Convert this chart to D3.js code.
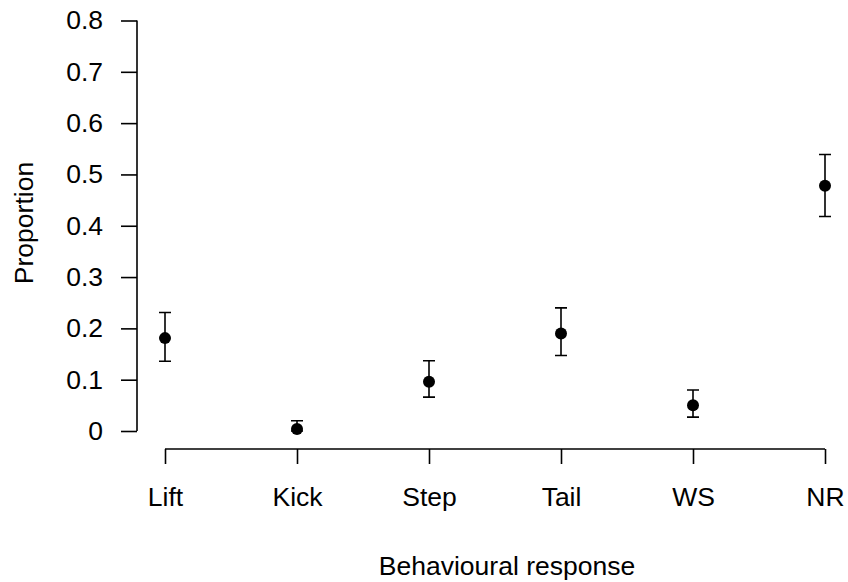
<!DOCTYPE html>
<html>
<head>
<meta charset="utf-8">
<script src="https://cdn.jsdelivr.net/npm/d3@7"></script>
<style>
html,body{margin:0;padding:0;background:#fff;}
svg{display:block;}
text{font-family:"Liberation Sans",Arial,sans-serif;fill:#000;}
</style>
</head>
<body>
<svg id="chart" width="848" height="582"></svg>
<script>
const categories = ["Lift", "Kick", "Step", "Tail", "WS", "NR"];
const proportion = [0.181, 0.004, 0.096, 0.190, 0.050, 0.478];
const lowerCI   = [0.136, 0.000, 0.066, 0.147, 0.027, 0.418];
const upperCI   = [0.231, 0.020, 0.137, 0.240, 0.080, 0.539];
const yTicks = [0, 0.1, 0.2, 0.3, 0.4, 0.5, 0.6, 0.7, 0.8];
const yTickLabels = ["0", "0.1", "0.2", "0.3", "0.4", "0.5", "0.6", "0.7", "0.8"];

const svg = d3.select("#chart");
const fontSize = 26.5;
const ff = '"Liberation Sans",Arial,sans-serif';
const x = d3.scalePoint().domain(categories).range([165, 825]);
const y = d3.scaleLinear().domain([0, 0.8]).range([431, 20.5]);
const axisX = 137, axisY = 449;

// Y axis
const yAxis = d3.axisLeft(y).tickValues(yTicks)
  .tickFormat((d, i) => yTickLabels[i]).tickSize(16).tickPadding(18).tickSizeOuter(0);
const gy = svg.append("g").attr("transform", `translate(${axisX},0)`).call(yAxis);
gy.select(".domain").attr("d", `M0,${y(0)}V${y(0.8)}`);
gy.selectAll("line,path").attr("stroke", "#000").attr("stroke-width", 1.6);
gy.selectAll("text").attr("font-size", fontSize).attr("font-family", ff).attr("fill", "#000");

// X axis
const xAxis = d3.axisBottom(x).tickSize(15).tickPadding(23).tickSizeOuter(0);
const gx = svg.append("g").attr("transform", `translate(0,${axisY})`).call(xAxis);
gx.select(".domain").attr("d", `M${x(categories[0])},0H${x(categories[categories.length-1])}`);
gx.selectAll("line,path").attr("stroke", "#000").attr("stroke-width", 1.6);
gx.selectAll("text").attr("font-size", fontSize).attr("font-family", ff).attr("fill", "#000");

// Axis titles
svg.append("text").attr("x", 507).attr("y", 575).attr("text-anchor", "middle")
  .attr("font-size", fontSize).text("Behavioural response");
svg.append("text").attr("transform", "translate(33,223) rotate(-90)").attr("text-anchor", "middle")
  .attr("font-size", fontSize).text("Proportion");

// Error bars
const data = categories.map((c, i) => ({c, p: proportion[i], lo: lowerCI[i], hi: upperCI[i]}));
const capW = 6;
const eb = svg.append("g").attr("stroke", "#000").attr("stroke-width", 1.6).attr("fill", "none");
eb.selectAll("path").data(data).join("path")
  .attr("d", d => `M${x(d.c)},${y(d.lo)}V${y(d.hi)}M${x(d.c)-capW},${y(d.hi)}H${x(d.c)+capW}M${x(d.c)-capW},${y(d.lo)}H${x(d.c)+capW}`);

// Points
svg.append("g").selectAll("circle").data(data).join("circle")
  .attr("cx", d => x(d.c)).attr("cy", d => y(d.p)).attr("r", 6).attr("fill", "#000");
</script>
</body>
</html>
